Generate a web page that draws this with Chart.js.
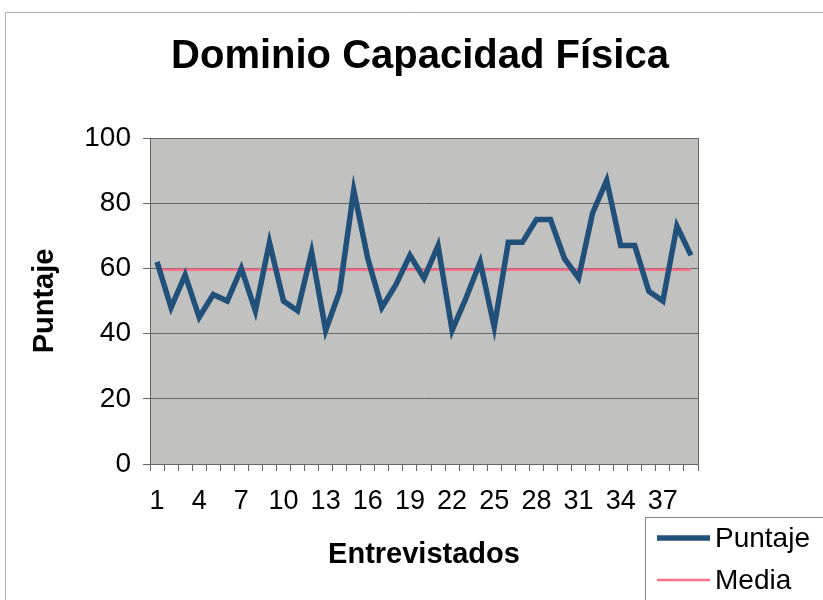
<!DOCTYPE html>
<html>
<head>
<meta charset="utf-8">
<title>Dominio Capacidad Física</title>
<script src="https://cdn.jsdelivr.net/npm/chart.js@4"></script>
<style>
  body { margin: 0; background: #fff; }
  canvas { display: block; }
</style>
</head>
<body>
<canvas id="grafico" width="823" height="600"></canvas>
<script>
// Datos
const entrevistados = ['1','2','3','4','5','6','7','8','9','10','11','12','13','14','15','16','17','18','19','20',
  '21','22','23','24','25','26','27','28','29','30','31','32','33','34','35','36','37','38','39'];
const puntaje = [62, 48, 58, 45, 52, 50, 60, 47, 68, 50, 47, 65, 41, 53, 84, 63, 48, 55, 64, 57,
  67, 41, 51, 62, 42, 68, 68, 75, 75, 63, 57, 77, 87, 67, 67, 53, 50, 73, 64];
const media = [59.6, 59.6, 59.6, 59.6, 59.6, 59.6, 59.6, 59.6, 59.6, 59.6, 59.6, 59.6, 59.6, 59.6, 59.6, 59.6, 59.6, 59.6, 59.6, 59.6,
  59.6, 59.6, 59.6, 59.6, 59.6, 59.6, 59.6, 59.6, 59.6, 59.6, 59.6, 59.6, 59.6, 59.6, 59.6, 59.6, 59.6, 59.6, 59.6];
const yTicks = [0, 20, 40, 60, 80, 100];

const FONT = "'Liberation Sans', Arial, sans-serif";

// fondo gris del área de trazado + marco
const plotBg = {
  id: 'plotBg',
  beforeDraw(chart) {
    const { ctx, chartArea: a } = chart;
    ctx.save();
    // borde exterior del gráfico
    ctx.strokeStyle = '#b0b0b0';
    ctx.lineWidth = 1;
    ctx.beginPath();
    ctx.moveTo(5.5, 600);
    ctx.lineTo(5.5, 12.5);
    ctx.lineTo(823, 12.5);
    ctx.stroke();
    ctx.fillStyle = '#c1c2bf';
    ctx.fillRect(a.left, a.top, a.right - a.left, a.bottom - a.top);
    ctx.restore();
  },
  afterDatasetsDraw(chart) {
    const { ctx, chartArea: a } = chart;
    ctx.save();
    ctx.strokeStyle = '#666';
    ctx.lineWidth = 1;
    ctx.strokeRect(a.left + 0.5, a.top + 0.5, a.right - a.left, a.bottom - a.top);
    ctx.restore();
  }
};

// leyenda en la esquina inferior derecha
const cajaLeyenda = {
  id: 'cajaLeyenda',
  afterDraw(chart) {
    const { ctx } = chart;
    const x = 645, y = 517;
    ctx.save();
    ctx.fillStyle = '#fff';
    ctx.fillRect(x, y, 200, 90);
    ctx.strokeStyle = '#888';
    ctx.lineWidth = 1;
    ctx.strokeRect(x + 0.5, y + 0.5, 200, 90);
    ctx.font = '28px ' + FONT;
    ctx.fillStyle = '#000';
    ctx.textBaseline = 'middle';
    chart.data.datasets.forEach((ds, i) => {
      const cy = y + 21 + i * 42;
      ctx.strokeStyle = ds.borderColor;
      ctx.lineWidth = ds.borderWidth;
      ctx.beginPath();
      ctx.moveTo(x + 12, cy);
      ctx.lineTo(x + 65, cy);
      ctx.stroke();
      ctx.fillText(ds.label, x + 70, cy + 1);
    });
    ctx.restore();
  }
};

new Chart(document.getElementById('grafico'), {
  type: 'line',
  data: {
    labels: entrevistados,
    datasets: [
      {
        label: 'Puntaje',
        data: puntaje,
        borderColor: '#21507a',
        borderWidth: 5.5,
        pointRadius: 0,
        tension: 0,
        borderJoinStyle: 'miter'
      },
      {
        label: 'Media',
        data: media,
        borderColor: '#ff7088',
        borderWidth: 2.5,
        pointRadius: 0,
        tension: 0
      }
    ]
  },
  options: {
    responsive: false,
    animation: false,
    devicePixelRatio: 1,
    layout: { padding: { left: 17, right: 0, top: 0, bottom: 0 } },
    plugins: {
      legend: { display: false },
      tooltip: { enabled: false },
      title: {
        display: true,
        text: 'Dominio Capacidad Física',
        color: '#000',
        font: { family: FONT, size: 40, weight: 'bold' },
        padding: { top: 33, bottom: 57 }
      }
    },
    scales: {
      x: {
        offset: true,
        afterFit(scale) { scale.height = 136; },
        grid: { offset: true, drawOnChartArea: false, drawTicks: true, tickLength: 7, color: '#666' },
        border: { display: true, color: '#666' },
        ticks: {
          autoSkip: false,
          maxRotation: 0,
          minRotation: 0,
          padding: 14,
          color: '#000',
          font: { family: FONT, size: 27 },
          callback(value, index) { return index % 3 === 0 ? entrevistados[index] : ''; }
        },
        title: {
          display: true,
          text: 'Entrevistados',
          color: '#000',
          font: { family: FONT, size: 29, weight: 'bold' },
          padding: { top: 20, bottom: 28 }
        }
      },
      y: {
        min: 0,
        max: 100,
        afterFit(scale) { scale.width = 133; },
        afterBuildTicks(scale) { scale.ticks = yTicks.map(v => ({ value: v })); },
        grid: { color: '#666', tickLength: 7, drawTicks: true },
        border: { display: true, color: '#666' },
        ticks: {
          padding: 12,
          color: '#000',
          font: { family: FONT, size: 28 }
        },
        title: {
          display: true,
          text: 'Puntaje',
          color: '#000',
          font: { family: FONT, size: 29, weight: 'bold' },
          padding: { top: 11, bottom: 0 }
        }
      },
      // espacio vacío a la derecha del área de trazado
      derecha: {
        position: 'right',
        afterFit(scale) { scale.width = 125; },
        grid: { display: false },
        border: { display: false },
        ticks: { display: false }
      }
    }
  },
  plugins: [plotBg, cajaLeyenda]
});
</script>
</body>
</html>
